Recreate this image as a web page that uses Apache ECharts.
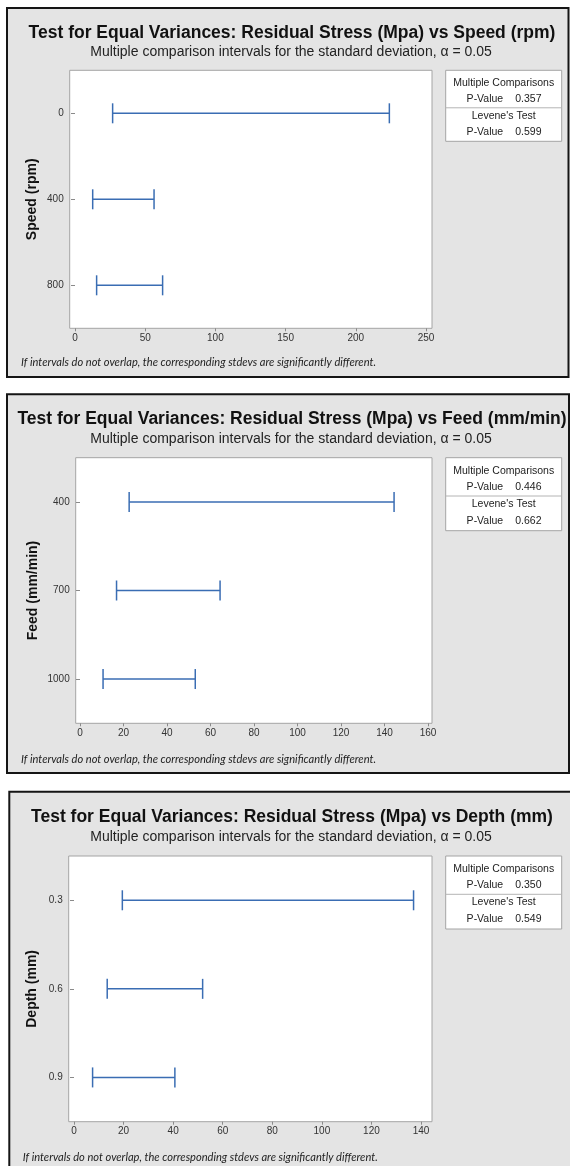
<!DOCTYPE html>
<html>
<head>
<meta charset="utf-8">
<script src="https://cdn.jsdelivr.net/npm/echarts@6/dist/echarts.min.js"></script>
<style>
  html, body { margin: 0; padding: 0; background: #fff; }
  #chart { width: 570px; height: 1166px; }
</style>
</head>
<body>
<div id="chart"></div>
<script>
// --- data ---
const speedLevels = ['0', '400', '800'];
const speedLower = [26.8, 12.6, 15.4];
const speedUpper = [223.9, 56.3, 62.4];
const speedTicks = [0, 50, 100, 150, 200, 250];
const speedPValues = ['0.357', '0.599'];

const feedLevels = ['400', '700', '1000'];
const feedLower = [22.6, 16.8, 10.6];
const feedUpper = [144.4, 64.4, 53.0];
const feedTicks = [0, 20, 40, 60, 80, 100, 120, 140, 160];
const feedPValues = ['0.446', '0.662'];

const depthLevels = ['0.3', '0.6', '0.9'];
const depthLower = [19.5, 13.4, 7.5];
const depthUpper = [137.0, 51.9, 40.7];
const depthTicks = [0, 20, 40, 60, 80, 100, 120, 140];
const depthPValues = ['0.350', '0.549'];

const SUBTITLE = 'Multiple comparison intervals for the standard deviation, \u03b1 = 0.05';
const FOOTNOTE = 'If intervals do not overlap, the corresponding stdevs are significantly different.';
const BAR_COLOR = '#3A6DB3';
const FONT = '"Liberation Sans", Arial, sans-serif';

// layout of each panel, in page pixels
const panels = [
  {
    title: 'Test for Equal Variances: Residual Stress (Mpa) vs Speed (rpm)', yName: 'Speed (rpm)',
    levels: speedLevels, lower: speedLower, upper: speedUpper, ticks: speedTicks, pValues: speedPValues,
    box: [7, 8, 561.5, 369], titleY: 33, subY: 52.5, plot: [69.7, 70.3, 432, 328.3], x0: 75, x1: 426,
    yNameX: 32, footX: 21, footY: 362.7, legendRows: [13, 29, 45.5, 61.5], legendDiv: 37.5, legendH: 71
  },
  {
    title: 'Test for Equal Variances: Residual Stress (Mpa) vs Feed (mm/min)', yName: 'Feed (mm/min)',
    levels: feedLevels, lower: feedLower, upper: feedUpper, ticks: feedTicks, pValues: feedPValues,
    box: [7, 394.3, 562, 378.7], titleY: 419.5, subY: 438.8, plot: [75.7, 457.7, 432, 723.3], x0: 80, x1: 428,
    yNameX: 33, footX: 21, footY: 759, legendRows: [13.3, 29.6, 46.3, 63.3], legendDiv: 38.3, legendH: 73
  },
  {
    title: 'Test for Equal Variances: Residual Stress (Mpa) vs Depth (mm)', yName: 'Depth (mm)',
    levels: depthLevels, lower: depthLower, upper: depthUpper, ticks: depthTicks, pValues: depthPValues,
    box: [9.3, 791.7, 562, 390], titleY: 817, subY: 836.7, plot: [68.7, 856, 432, 1121.7], x0: 74, x1: 421,
    yNameX: 31.7, footX: 22.7, footY: 1157.7, legendRows: [13.3, 29.6, 46.3, 63.3], legendDiv: 38.3, legendH: 73
  }
];

function errorBar(params, api) {
  const cat = api.value(2);
  const a = api.coord([api.value(0), cat]);
  const b = api.coord([api.value(1), cat]);
  const h = 10;
  const style = { stroke: BAR_COLOR, lineWidth: 1.5 };
  return {
    type: 'group',
    children: [
      { type: 'line', shape: { x1: a[0], y1: a[1], x2: b[0], y2: b[1] }, style },
      { type: 'line', shape: { x1: a[0], y1: a[1] - h, x2: a[0], y2: a[1] + h }, style },
      { type: 'line', shape: { x1: b[0], y1: b[1] - h, x2: b[0], y2: b[1] + h }, style }
    ]
  };
}

const W = 570;
const grids = [], xAxes = [], yAxes = [], series = [], graphics = [];

panels.forEach((p, i) => {
  const [px0, py0, px1, py1] = p.plot;
  grids.push({
    left: p.x0, right: W - p.x1, top: py0, height: py1 - py0,
    outerBoundsMode: 'none', containLabel: false
  });
  xAxes.push({
    gridIndex: i, type: 'value',
    min: p.ticks[0], max: p.ticks[p.ticks.length - 1], interval: p.ticks[1] - p.ticks[0],
    axisLine: { show: false },
    axisTick: { show: true, length: 3, lineStyle: { color: '#8a8a8a' } },
    axisLabel: { color: '#333', fontSize: 10, fontFamily: FONT, margin: 5 },
    splitLine: { show: false }
  });
  yAxes.push({
    gridIndex: i, type: 'category', data: p.levels, inverse: true, boundaryGap: true,
    offset: p.x0 - px0,
    axisLine: { show: false },
    axisTick: { show: true, length: 4, alignWithLabel: true, lineStyle: { color: '#8a8a8a' } },
    axisLabel: { color: '#333', fontSize: 10, fontFamily: FONT, margin: 6 },
    splitLine: { show: false }
  });
  series.push({
    type: 'custom', xAxisIndex: i, yAxisIndex: i,
    renderItem: errorBar,
    encode: { x: [0, 1], y: 2 },
    data: p.levels.map((_, k) => [p.lower[k], p.upper[k], k]),
    z: 5
  });

  // panel background and border
  graphics.push({
    type: 'rect', z: -20,
    shape: { x: p.box[0], y: p.box[1], width: p.box[2], height: p.box[3] },
    style: { fill: '#E4E4E4', stroke: '#151515', lineWidth: 2 }
  });
  // plot frame
  graphics.push({
    type: 'rect', z: -10,
    shape: { x: px0, y: py0, width: px1 - px0, height: py1 - py0 },
    style: { fill: '#fff', stroke: '#a4a4a4', lineWidth: 1 }
  });
  // titles
  graphics.push({
    type: 'text', z: 10, x: 292, y: p.titleY,
    style: { text: p.title, font: 'bold 17.5px ' + FONT, fill: '#111', align: 'center', verticalAlign: 'middle' }
  });
  graphics.push({
    type: 'text', z: 10, x: 291, y: p.subY,
    style: { text: SUBTITLE, font: '14px ' + FONT, fill: '#222', align: 'center', verticalAlign: 'middle' }
  });
  // y-axis name
  graphics.push({
    type: 'text', z: 10, x: p.yNameX, y: (py0 + py1) / 2, rotation: Math.PI / 2,
    style: { text: p.yName, font: 'bold 14px ' + FONT, fill: '#111', align: 'center', verticalAlign: 'middle' }
  });
  // footnote
  graphics.push({
    type: 'text', z: 10, x: p.footX, y: p.footY,
    style: { text: FOOTNOTE, font: 'italic 11.1px Lato, "Open Sans", sans-serif', fill: '#222', align: 'left', verticalAlign: 'middle' }
  });
  // legend table
  const lx = 445.7, lw = 116, ly = py0, cx = lx + lw / 2;
  graphics.push({
    type: 'rect', z: -10,
    shape: { x: lx, y: ly, width: lw, height: p.legendH },
    style: { fill: '#fff', stroke: '#a4a4a4', lineWidth: 1 }
  });
  graphics.push({
    type: 'line', z: -5,
    shape: { x1: lx, y1: ly + p.legendDiv, x2: lx + lw, y2: ly + p.legendDiv },
    style: { stroke: '#b4b4b4', lineWidth: 1 }
  });
  const lf = '10.5px ' + FONT;
  const rows = [
    { text: 'Multiple Comparisons', y: p.legendRows[0] },
    { text: "Levene's Test", y: p.legendRows[2] }
  ];
  rows.forEach(r => graphics.push({
    type: 'text', z: 10, x: cx, y: ly + r.y,
    style: { text: r.text, font: lf, fill: '#222', align: 'center', verticalAlign: 'middle' }
  }));
  [p.legendRows[1], p.legendRows[3]].forEach((ry, k) => {
    graphics.push({
      type: 'text', z: 10, x: cx - 0.5, y: ly + ry,
      style: { text: 'P-Value', font: lf, fill: '#222', align: 'right', verticalAlign: 'middle' }
    });
    graphics.push({
      type: 'text', z: 10, x: cx + 11.5, y: ly + ry,
      style: { text: p.pValues[k], font: lf, fill: '#222', align: 'left', verticalAlign: 'middle' }
    });
  });
});

const chart = echarts.init(document.getElementById('chart'), null, { renderer: 'canvas' });
chart.setOption({
  backgroundColor: '#fff',
  animation: false,
  grid: grids,
  xAxis: xAxes,
  yAxis: yAxes,
  series: series,
  graphic: { elements: graphics }
});
</script>
</body>
</html>
